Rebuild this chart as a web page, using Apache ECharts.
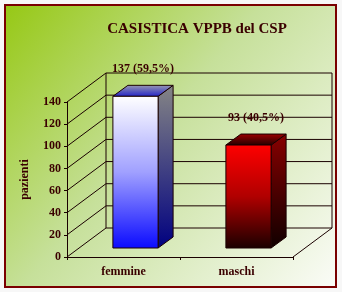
<!DOCTYPE html>
<html><head><meta charset="utf-8">
<script src="https://cdn.jsdelivr.net/npm/echarts@6/dist/echarts.min.js"></script>
<style>html,body{margin:0;padding:0;background:#f7f7f7}#c{width:342px;height:292px}</style>
</head><body><div id="c"></div>
<script>
const titleText = 'CASISTICA VPPB del CSP';
const categories = ['femmine', 'maschi'];
const patients = [137, 93];
const barLabels = ['137 (59,5%)', '93 (40,5%)'];
const yTicks = [0, 20, 40, 60, 80, 100, 120, 140];
const yName = 'pazienti';

const LINE = '#1a0000';
const TXT = '#3a0000';
const FONT = '"Liberation Serif", "DejaVu Serif", serif';
const DX = 39, DY = -29;      // depth of the 3D box
const FX = 12, FY = -9;       // bar front offset
const BX = 15, BY = -11;      // bar depth

const faces = [
  {
    front: new echarts.graphic.LinearGradient(0, 0, 0, 1, [{offset: 0, color: '#ffffff'}, {offset: 0.5, color: '#a0a0ff'}, {offset: 1, color: '#0a0aff'}]),
    side: new echarts.graphic.LinearGradient(0, 0, 0, 1, [{offset: 0, color: '#858585'}, {offset: 1, color: '#000080'}]),
    top: new echarts.graphic.LinearGradient(0, 0, 0, 1, [{offset: 0, color: '#9a9ab0'}, {offset: 1, color: '#2020c8'}])
  },
  {
    front: new echarts.graphic.LinearGradient(0, 0, 0, 1, [{offset: 0, color: '#ff0000'}, {offset: 0.5, color: '#b00000'}, {offset: 1, color: '#1a0000'}]),
    side: new echarts.graphic.LinearGradient(0, 0, 0, 1, [{offset: 0, color: '#880000'}, {offset: 1, color: '#100000'}]),
    top: new echarts.graphic.LinearGradient(0, 0, 0, 1, [{offset: 0, color: '#a00000'}, {offset: 1, color: '#200000'}])
  }
];

const chart = echarts.init(document.getElementById('c'), null, {renderer: 'canvas'});
chart.setOption({
  animation: false,
  graphic: [
    {type: 'rect', z: -10, shape: {x: 5, y: 5, width: 331, height: 282},
     style: {fill: new echarts.graphic.LinearGradient(0, 0, 1, 1, [{offset: 0, color: '#96c814'}, {offset: 0.45, color: '#c6e09a'}, {offset: 1, color: '#fbfcf8'}]),
             stroke: '#7a0000', lineWidth: 2}}
  ],
  title: {
    text: titleText, left: 192, top: 17, textAlign: 'center',
    textStyle: {fontFamily: FONT, fontWeight: 'bold', fontSize: 15, color: TXT}
  },
  grid: {left: 67, top: 102, width: 226, height: 155},
  xAxis: {
    type: 'category', data: categories, boundaryGap: true,
    axisLine: {lineStyle: {color: LINE, width: 1}},
    axisTick: {show: true, length: 3, lineStyle: {color: LINE}},
    axisLabel: {margin: 9, fontFamily: FONT, fontWeight: 'bold', fontSize: 12, color: TXT}
  },
  yAxis: {
    type: 'value', min: 0, max: 140, interval: 20,
    name: yName, nameLocation: 'middle', nameGap: 36, nameRotate: 90,
    nameTextStyle: {fontFamily: FONT, fontWeight: 'bold', fontSize: 12, color: TXT},
    axisLine: {show: true, lineStyle: {color: LINE, width: 1}},
    axisTick: {show: true, length: 3, lineStyle: {color: LINE}},
    axisLabel: {margin: 6, fontFamily: FONT, fontWeight: 'bold', fontSize: 12, color: TXT},
    splitLine: {show: false}
  },
  series: [
    {
      type: 'custom', z: 1, silent: true, data: [[0, 0]],
      renderItem: function (params, api) {
        const cs = params.coordSys;
        const left = cs.x, right = cs.x + cs.width;
        const children = [];
        const ls = {stroke: LINE, lineWidth: 1};
        yTicks.forEach(function (v) {
          const y = api.coord([0, v])[1];
          children.push({type: 'line', shape: {x1: left, y1: y, x2: left + DX, y2: y + DY}, style: ls});
          children.push({type: 'line', shape: {x1: left + DX, y1: y + DY, x2: right + DX, y2: y + DY}, style: ls});
        });
        const yTop = api.coord([0, yTicks[yTicks.length - 1]])[1];
        const yBot = api.coord([0, 0])[1];
        children.push({type: 'line', shape: {x1: left + DX, y1: yTop + DY, x2: left + DX, y2: yBot + DY}, style: ls});
        children.push({type: 'line', shape: {x1: right + DX, y1: yTop + DY, x2: right + DX, y2: yBot + DY}, style: ls});
        children.push({type: 'line', shape: {x1: right, y1: yBot, x2: right + DX, y2: yBot + DY}, style: ls});
        return {type: 'group', children: children};
      }
    },
    {
      type: 'custom', z: 3, silent: true,
      data: patients.map(function (v, i) { return [i, v]; }),
      renderItem: function (params, api) {
        const i = api.value(0), v = api.value(1);
        const top = api.coord([i, v]);
        const base = api.coord([i, 0]);
        const bw = api.size([1, 0])[0] * 0.4;
        const x0 = top[0] - bw / 2 + FX, x1 = x0 + bw;
        const yT = top[1] + FY, yB = base[1] + FY;
        const f = faces[i];
        const ls = LINE;
        return {type: 'group', children: [
          {type: 'polygon', shape: {points: [[x1, yT], [x1 + BX, yT + BY], [x1 + BX, yB + BY], [x1, yB]]}, style: {fill: f.side, stroke: ls, lineWidth: 1}},
          {type: 'polygon', shape: {points: [[x0, yT], [x0 + BX, yT + BY], [x1 + BX, yT + BY], [x1, yT]]}, style: {fill: f.top, stroke: ls, lineWidth: 1}},
          {type: 'rect', shape: {x: x0, y: yT, width: bw, height: yB - yT}, style: {fill: f.front, stroke: ls, lineWidth: 1}},
          {type: 'text', style: {x: x0 + bw / 2 + BX / 2, y: yT + BY - 16, text: barLabels[i], align: 'center', verticalAlign: 'middle',
            font: 'bold 12px ' + FONT, fill: TXT}}
        ]};
      }
    }
  ]
});
</script></body></html>
